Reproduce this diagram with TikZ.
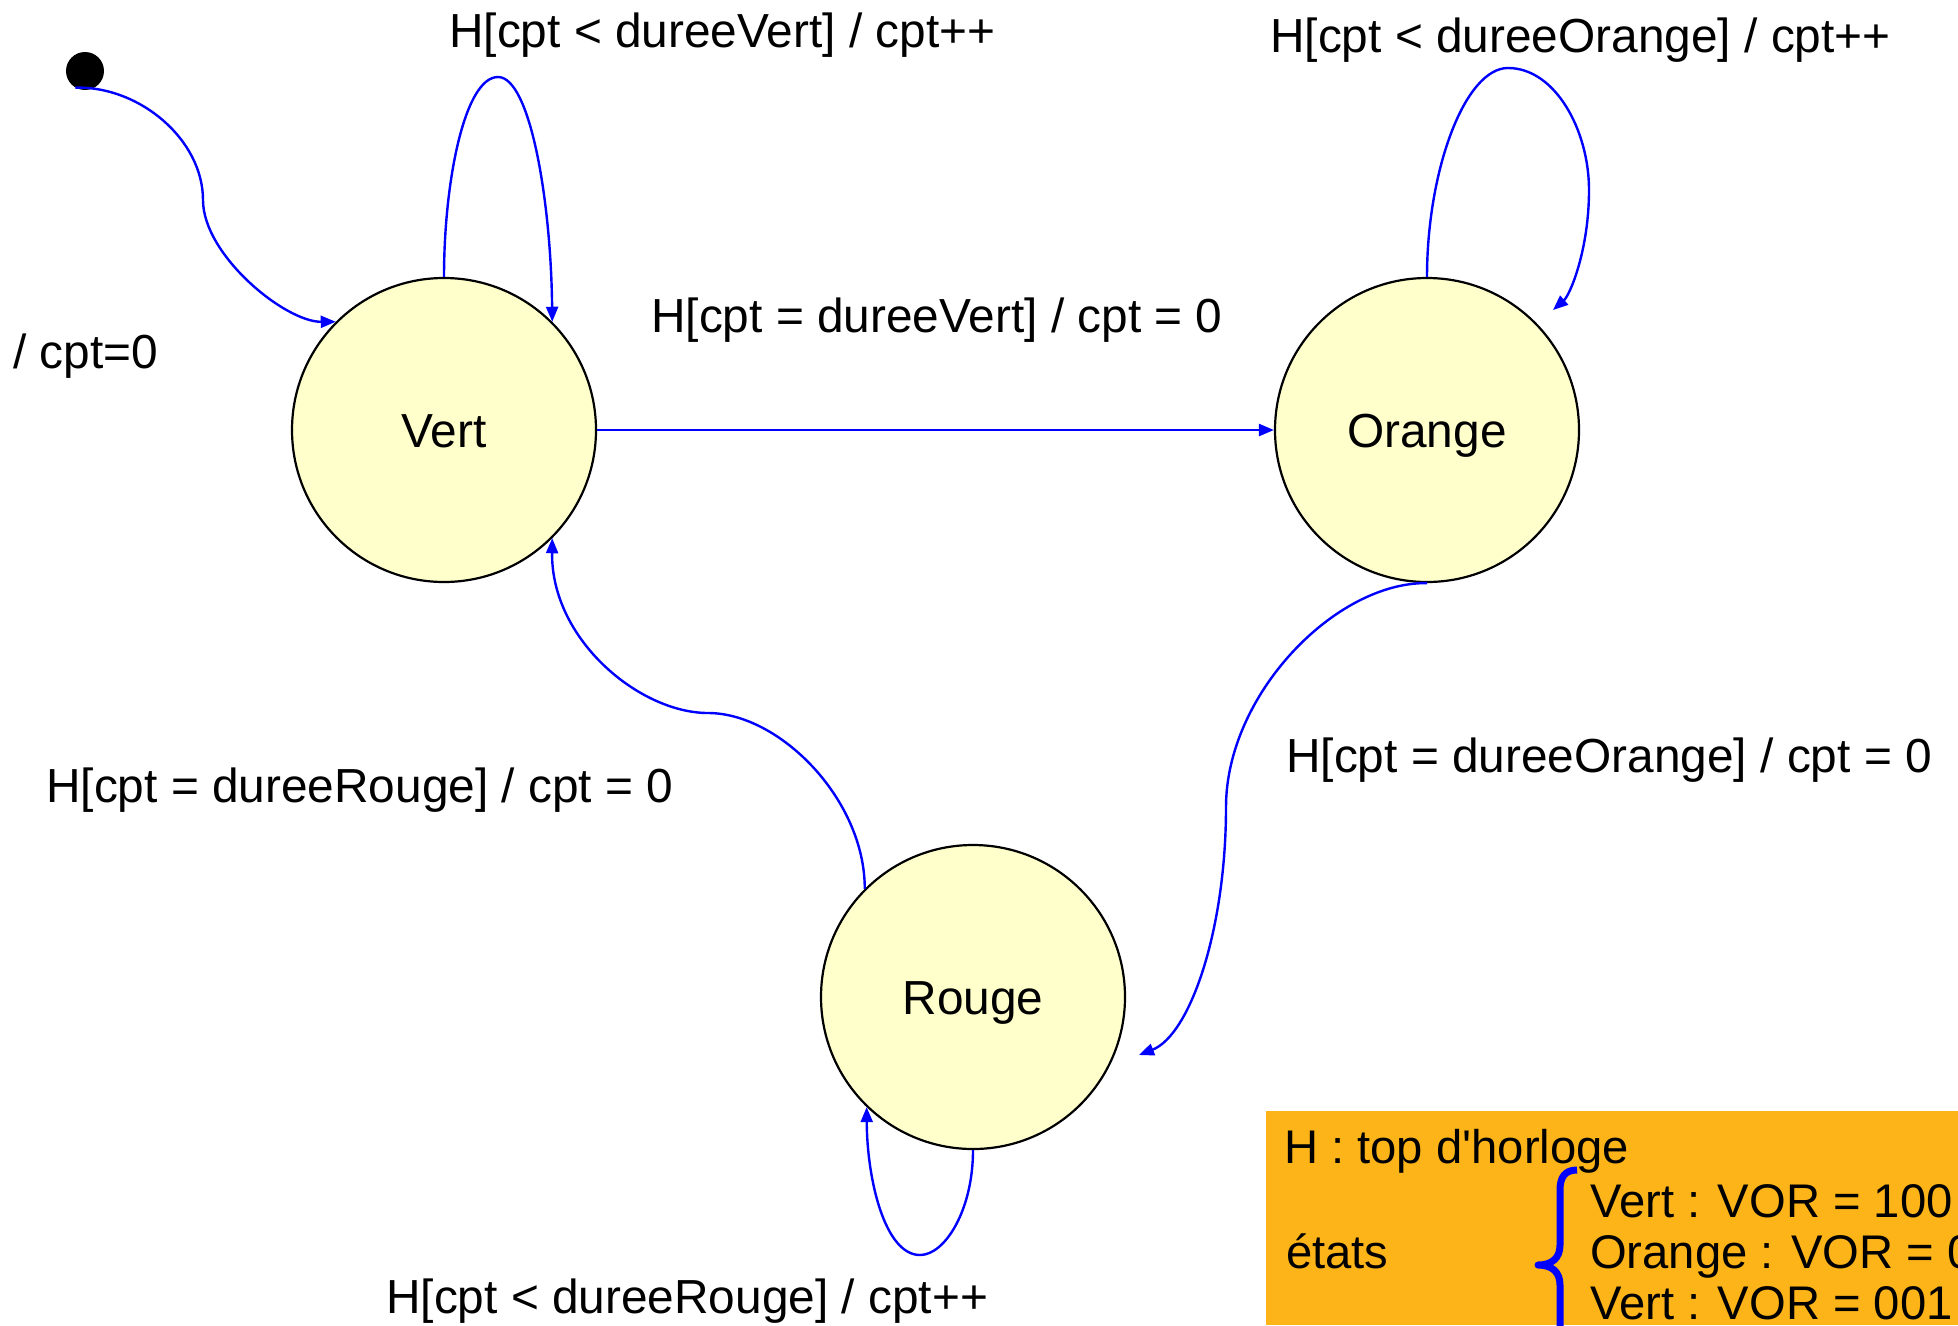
\documentclass[tikz,border=0pt]{standalone}
\usepackage{fontspec}
\setmainfont{Liberation Sans}
\usetikzlibrary{arrows.meta}
\definecolor{statefill}{RGB}{255,255,204}
\definecolor{notefill}{RGB}{253,180,24}
\definecolor{wireblue}{RGB}{0,0,255}
\begin{document}
\begin{tikzpicture}[x=1pt,y=-1pt,
  font=\fontsize{47.8}{57}\selectfont,
  state/.style={circle,draw=black,line width=2.2pt,fill=statefill,
    minimum size=304pt,inner sep=0pt,text height=34pt,text depth=0pt},
  initdot/.style={circle,fill=black,minimum size=38pt,inner sep=0pt},
  trans/.style={draw=wireblue,line width=2.4pt,
    -{Triangle[length=15pt,width=12pt]}},
  lbl/.style={anchor=base west,inner sep=0pt},
  legendtext/.style={lbl,font=\fontsize{47.2}{57}\selectfont},
  brace/.style={draw=wireblue,line width=7pt,line join=round}]

\useasboundingbox (0,0) rectangle (1958,1325);
\fill[white] (0,0) rectangle (1958,1325);

% states
\node[initdot] (init) at (85,71) {};
\node[state] (Vert)   at (444,430)  {Vert};
\node[state] (Orange) at (1427,430) {Orange};
\node[state] (Rouge)  at (973,997)  {Rouge};

% free ends of two transitions
\coordinate (orangeLoopEnd) at (1553,310);
\coordinate (rougeIn) at (1139,1055);

% initial transition
\draw[trans] (init.240) .. controls (140,86) and (203,140) .. (203,200)
  .. controls (203,255) and (285,322) .. (Vert.135);

% Vert self loop
\draw[trans] (Vert.90) .. controls (444,180) and (465,77) .. (498,77)
  .. controls (530,77) and (551,200) .. (Vert.45);

% Vert -> Orange
\draw[trans] (Vert.east) -- (Orange.west);

% Orange self loop
\draw[trans] (Orange.90) .. controls (1427,170) and (1465,68) .. (1508,68)
  .. controls (1555,68) and (1589,130) .. (1589,190)
  .. controls (1589,250) and (1570,295) .. (orangeLoopEnd);

% Orange -> Rouge
\draw[trans] (Orange.south) .. controls (1335,582) and (1226,695) .. (1226,807)
  .. controls (1226,930) and (1190,1035) .. (rougeIn);

% Rouge -> Vert
\draw[trans] (Rouge.135) .. controls (865,800) and (780,713) .. (708,713)
  .. controls (640,713) and (551,640) .. (Vert.-45);

% Rouge self loop
\draw[trans] (Rouge.-90) .. controls (973,1210) and (945,1255) .. (920,1255)
  .. controls (885,1255) and (867,1180) .. (Rouge.-134);

% transition labels
\node[lbl] (lInit)   at (13,368)   {/ cpt=0};
\node[lbl] (lVV)     at (449,47)   {H[cpt < dureeVert] / cpt++};
\node[lbl] (lOO)     at (1270,52)  {H[cpt < dureeOrange] / cpt++};
\node[lbl] (lVO)     at (651,332)  {H[cpt = dureeVert] / cpt = 0};
\node[lbl] (lOR)     at (1286,772) {H[cpt = dureeOrange] / cpt = 0};
\node[lbl] (lRV)     at (46,802)   {H[cpt = dureeRouge] / cpt = 0};
\node[lbl] (lRR)     at (386,1313) {H[cpt < dureeRouge] / cpt++};

% legend
\fill[notefill] (1266,1111) rectangle (1958,1325);
\node[legendtext] (lH)     at (1284,1163) {H : top d\textquotesingle horloge};
\node[legendtext] (lEtats) at (1286,1268) {états};
\node[legendtext] (lS1)    at (1590,1217) {Vert : VOR = 100};
\node[legendtext] (lS2)    at (1590,1268) {Orange : VOR = 010};
\node[legendtext] (lS3)    at (1590,1319) {Vert : VOR = 001};
\draw[brace] (1577,1170) .. controls (1565,1170) and (1560,1177) .. (1560,1190)
  -- (1560,1245) .. controls (1560,1258) and (1552,1265) .. (1538,1265)
  .. controls (1552,1265) and (1560,1272) .. (1560,1285) -- (1560,1345);
\end{tikzpicture}
\end{document}
